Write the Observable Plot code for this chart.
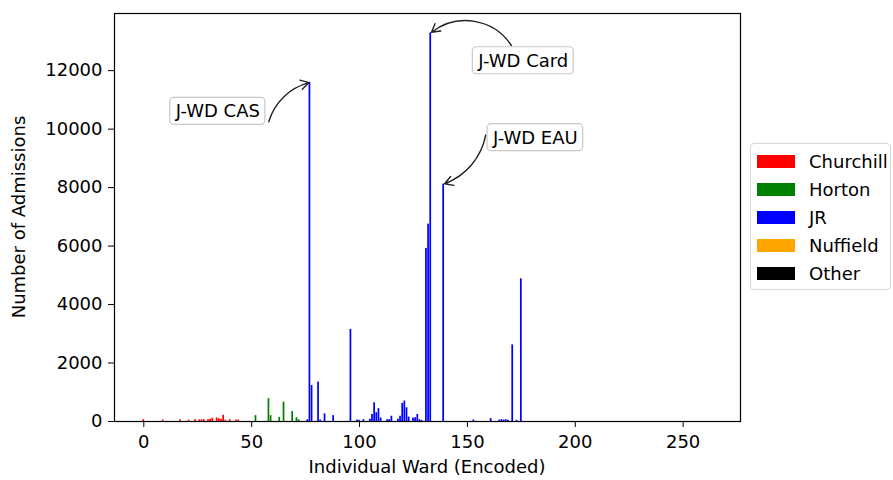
<!DOCTYPE html>
<html><head><meta charset="utf-8">
<script src="https://cdn.jsdelivr.net/npm/d3@7"></script>
<script src="https://cdn.jsdelivr.net/npm/@observablehq/plot@0.6"></script>
<style>
body{margin:0;background:#fff;font-family:"DejaVu Sans",sans-serif;}
#wrap{position:relative;width:893px;height:480px;}
.legend{position:absolute;left:750px;top:143px;width:141px;height:147px;border:1px solid #d6d6d6;border-radius:4px;background:#fff;box-sizing:border-box;padding:3px 0 0 6px;font-size:18px;color:#000;}
.legend .item{display:flex;align-items:center;height:28px;}
.legend .sw{width:38px;height:13px;margin-right:14px;}
</style></head>
<body><div id="wrap"></div>
<script>
// Hospitals and colours
const hospitals = ["Churchill", "Horton", "JR", "Nuffield", "Other"];
const hospitalColors = ["#ff0000", "#008000", "#0000ff", "#ffa500", "#000000"];
const wardCount = 264; // encoded wards 0..263

// Admissions per encoded ward, by hospital
const churchillWards = [0, 9, 17, 21, 24, 26, 27, 28, 30, 31, 32, 34, 35, 36, 37, 38, 40, 43, 44];
const churchillAdmissions = [60, 50, 55, 45, 60, 55, 50, 65, 60, 80, 110, 120, 95, 70, 210, 40, 60, 50, 45];
const hortonWards = [52, 58, 59, 63, 65, 69, 71, 72];
const hortonAdmissions = [200, 780, 200, 140, 660, 340, 130, 60];
const jrWards = [76, 77, 78, 81, 82, 84, 88, 96, 99, 100, 102, 105, 106, 107, 108, 109, 110, 113, 114, 115, 118, 119, 120, 121, 122, 123, 125, 126, 127, 128, 129, 131, 132, 133, 139, 153, 161, 165, 166, 167, 168, 169, 171, 173, 175];
const jrAdmissions = [60, 11600, 1230, 1350, 50, 260, 200, 3150, 50, 40, 60, 80, 240, 640, 300, 440, 120, 60, 60, 180, 80, 180, 620, 700, 470, 150, 120, 130, 240, 60, 40, 5920, 6750, 13290, 8120, 50, 100, 50, 60, 50, 60, 40, 2620, 40, 4880];
const nuffieldWards = [];
const nuffieldAdmissions = [];
const otherWards = [];
const otherAdmissions = [];

// Tick values and axis titles
const xTicks = [0, 50, 100, 150, 200, 250];
const yTicks = [0, 2000, 4000, 6000, 8000, 10000, 12000];
const xTitle = "Individual Ward (Encoded)";
const yTitle = "Number of Admissions";

// Annotations (text and arrow start in data units)
const annotationLabels = ["J-WD CAS", "J-WD Card", "J-WD EAU"];
const annotationWards = [77, 133, 139];
const annotationTextX = [34.3, 175.9, 181.5];
const annotationTextY = [10600, 12330, 9700];
const arrowStartX = [57.9, 170.4, 158.5];
const arrowStartY = [10250, 12860, 9800];
const arrowBends = [30, -48, 30];

// Build table
const bars = [];
const groups = [[churchillWards, churchillAdmissions], [hortonWards, hortonAdmissions], [jrWards, jrAdmissions], [nuffieldWards, nuffieldAdmissions], [otherWards, otherAdmissions]];
groups.forEach(([w, a], k) => w.forEach((ward, j) => bars.push({ward, admissions: a[j], hospital: hospitals[k]})));
const valueOf = ward => bars.find(b => b.ward === ward).admissions;
const notes = annotationLabels.map((label, i) => ({
  label, tx: annotationTextX[i], ty: annotationTextY[i], sx: arrowStartX[i], sy: arrowStartY[i],
  ward: annotationWards[i], value: valueOf(annotationWards[i]), bend: arrowBends[i]
}));

const lo = -0.4, hi = wardCount - 1 + 0.4;
const pad = (hi - lo) * 0.05;
const yMax = d3.max(bars, d => d.admissions) * 1.05;

const W = 893, H = 480, mL = 114, mR = 153, mT = 13, mB = 59;
const plot = Plot.plot({
  width: W, height: H,
  marginLeft: mL, marginRight: mR, marginTop: mT, marginBottom: mB,
  style: {fontFamily: "DejaVu Sans", fontSize: "18px", color: "#000", background: "transparent"},
  x: {domain: [lo - pad, hi + pad], ticks: xTicks, tickFormat: d => String(d), tickSize: 6, tickPadding: 8, label: null},
  y: {domain: [0, yMax], ticks: yTicks, tickFormat: d => String(d), tickSize: 6, tickPadding: 6, label: null},
  color: {domain: hospitals, range: hospitalColors},
  marks: [
    Plot.rect(bars, {x1: d => d.ward - 0.4, x2: d => d.ward + 0.4, y1: 0, y2: "admissions", fill: "hospital"}),
    Plot.frame({stroke: "#000", strokeWidth: 1.2}),
    ...notes.map(n => Plot.arrow([n], {x1: "sx", y1: "sy", x2: "ward", y2: "value", bend: n.bend, stroke: "#222", strokeWidth: 1.4, headLength: 10, insetEnd: 1})),
    Plot.text(notes, {x: "tx", y: "ty", text: "label", fill: "#000", fontSize: 18})
  ]
});
const wrap = document.getElementById("wrap");
wrap.append(plot);

// rounded boxes behind annotation texts
plot.querySelectorAll('g[aria-label="text"] text').forEach(t => {
  const b = t.getBBox();
  const r = document.createElementNS("http://www.w3.org/2000/svg", "rect");
  r.setAttribute("x", b.x - 5); r.setAttribute("y", b.y - 3);
  r.setAttribute("width", b.width + 10); r.setAttribute("height", b.height + 6);
  r.setAttribute("rx", 4);
  r.setAttribute("fill", "#fff"); r.setAttribute("stroke", "#c8c8c8"); r.setAttribute("stroke-width", 1.2);
  if (t.getAttribute("transform")) r.setAttribute("transform", t.getAttribute("transform"));
  t.parentNode.insertBefore(r, t);
});

// axis titles
const svg = d3.select(plot);
svg.append("text").attr("x", (mL + W - mR) / 2).attr("y", 468).attr("text-anchor", "middle")
  .attr("dominant-baseline", "middle").attr("font-size", 18).attr("fill", "#000").text(xTitle);
svg.append("text").attr("transform", `translate(20,${(mT + H - mB) / 2}) rotate(-90)`).attr("text-anchor", "middle")
  .attr("dominant-baseline", "middle").attr("font-size", 18).attr("fill", "#000").text(yTitle);

// legend
const legend = document.createElement("div");
legend.className = "legend";
hospitals.forEach((h, i) => {
  const item = document.createElement("div"); item.className = "item";
  const sw = document.createElement("span"); sw.className = "sw"; sw.style.background = hospitalColors[i];
  const lb = document.createElement("span"); lb.textContent = h;
  item.append(sw, lb); legend.append(item);
});
wrap.append(legend);
</script>
</body></html>
